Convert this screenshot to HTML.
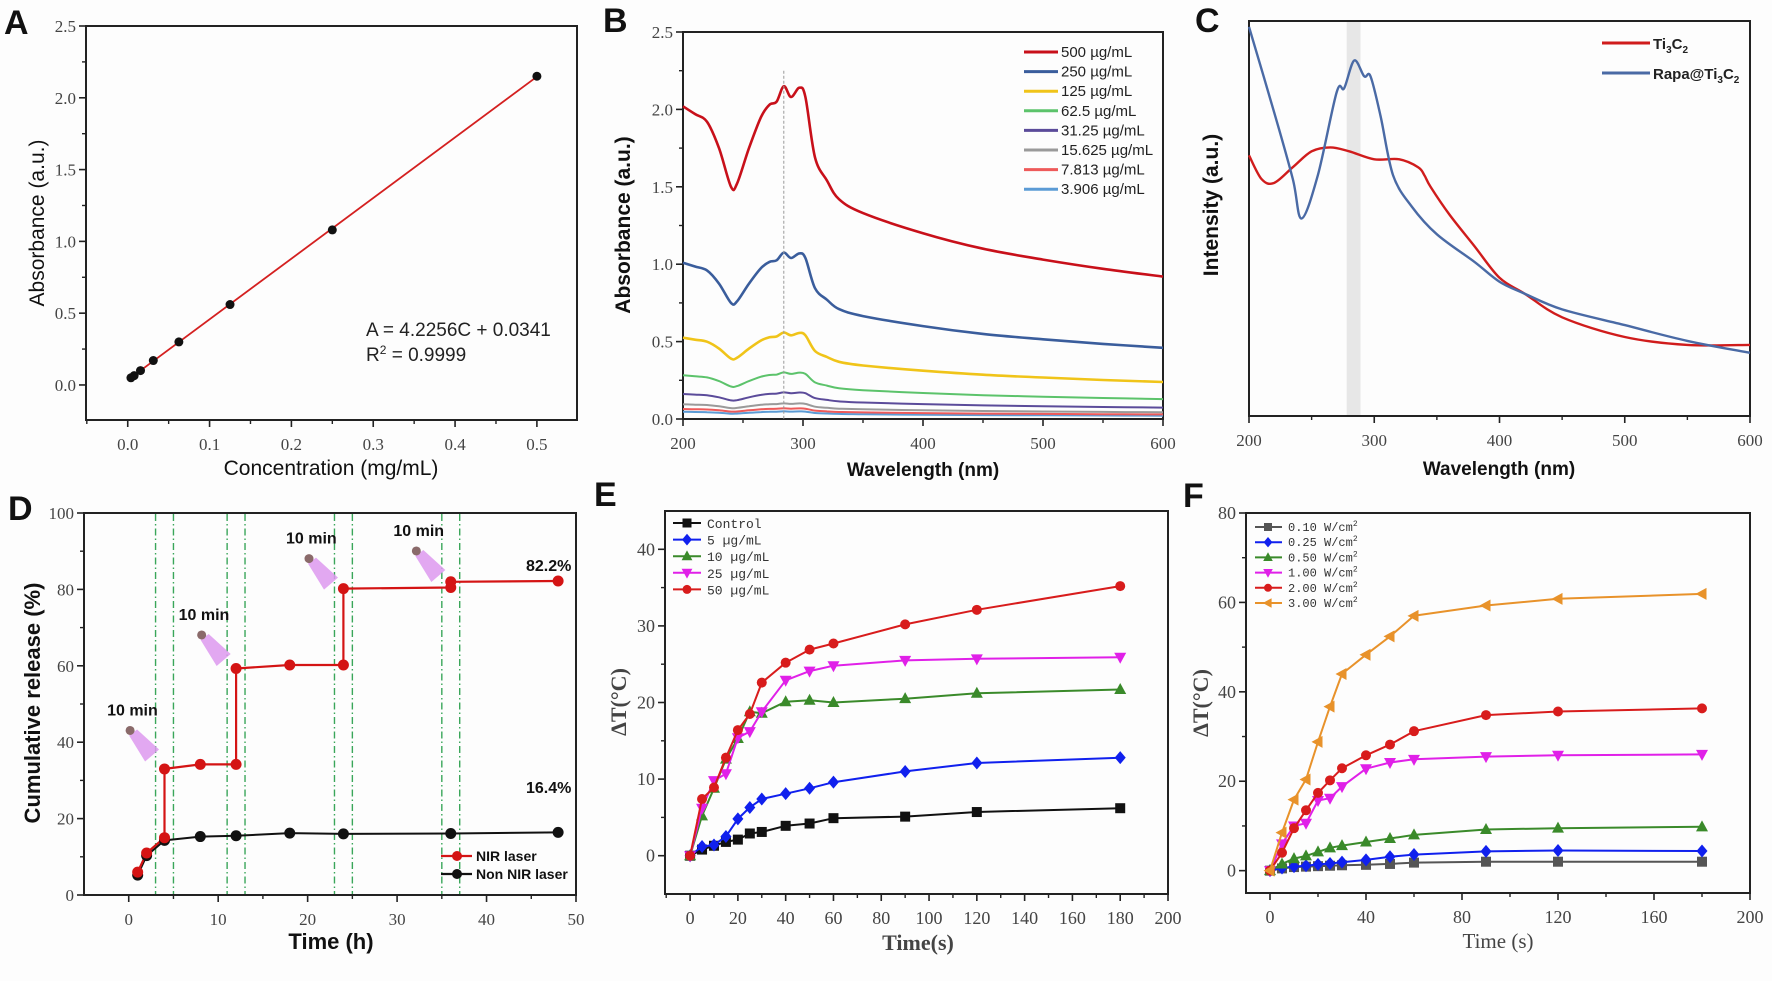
<!DOCTYPE html>
<html><head><meta charset="utf-8">
<style>
html,body{margin:0;padding:0;background:#fff;}
svg{display:block;}
.tk{font-family:"Liberation Serif",serif;fill:#444;}
.sans{font-family:"Liberation Sans",sans-serif;}
.mono{font-family:"Liberation Mono",monospace;}
</style></head>
<body>
<svg id="fig" width="1772" height="981" viewBox="0 0 1772 981" xmlns="http://www.w3.org/2000/svg">
<rect x="0" y="0" width="1772" height="981" fill="#fdfdfd"/>
</svg>
<script>
// ---------- Panel A data ----------
const aConc = [0.0039, 0.0078, 0.0156, 0.03125, 0.0625, 0.125, 0.25, 0.5];
const aAbs = [0.05, 0.065, 0.10, 0.17, 0.30, 0.56, 1.08, 2.15];
const aFitX = [0.003, 0.5];
const aFitY = [0.047, 2.147];
// ---------- Panel B data ----------
const bWave = [200,210,220,230,240,245,255,265,272,278,284,290,297,302,310,320,330,350,400,450,500,550,600];
const b500 = [2.02,1.97,1.92,1.75,1.50,1.52,1.75,1.95,2.03,2.05,2.15,2.08,2.14,2.08,1.69,1.54,1.42,1.33,1.20,1.10,1.03,0.97,0.92];
const bLabels = ["500 µg/mL","250 µg/mL","125 µg/mL","62.5 µg/mL","31.25 µg/mL","15.625 µg/mL","7.813 µg/mL","3.906 µg/mL"];
const bRatio = [1, 0.5, 0.26, 0.14, 0.08, 0.047, 0.032, 0.023];
const bColors = ["#c8101a","#3a5d9c","#f0c419","#5cc36b","#5b4b9a","#9a9a9a","#ee5a5a","#5b9bd5"];
// ---------- Panel C data ----------
const cWaveBlue = [200,220,235,242,255,270,276,284,292,297,305,315,330,350,380,400,420,450,500,550,600];
const cBlue = [0.985,0.77,0.60,0.50,0.61,0.82,0.83,0.90,0.86,0.86,0.76,0.61,0.53,0.46,0.39,0.34,0.31,0.27,0.23,0.19,0.16];
const cWaveRed = [200,210,220,235,250,265,280,300,320,335,340,345,360,380,400,420,450,500,550,600];
const cRed = [0.66,0.60,0.59,0.63,0.67,0.68,0.67,0.65,0.65,0.63,0.61,0.58,0.51,0.43,0.35,0.31,0.25,0.20,0.18,0.18];
// ---------- Panel D data ----------
const dTimeNIR = [1,2,4,4,8,12,12,18,24,24,36,36,48];
const dNIR = [6,11,15,33,34.2,34.2,59.3,60.2,60.2,80.2,80.5,82,82.2];
const dTimeNon = [1,2,4,8,12,18,24,36,48];
const dNon = [5.2,10.3,14.3,15.3,15.5,16.2,16.0,16.1,16.4];
const dLaserLines = [3,5,11,13,23,25,35,37];
const dLaserOn = [4,12,24,36];
// ---------- Panel E data ----------
const eTime = [0,5,10,15,20,25,30,40,50,60,90,120,180];
const eLabels = ["Control","5 µg/mL","10 µg/mL","25 µg/mL","50 µg/mL"];
const eControl = [0,0.8,1.3,1.8,2.1,2.9,3.1,3.9,4.2,4.9,5.1,5.7,6.2];
const e5 = [0,1.2,1.4,2.5,4.8,6.3,7.4,8.1,8.8,9.6,11.0,12.1,12.8];
const e10 = [0,5.2,8.8,12.6,15.3,18.8,18.6,20.1,20.3,20.0,20.5,21.2,21.7];
const e25 = [0,6.2,9.8,10.7,15.4,16.2,18.8,22.9,24.1,24.8,25.5,25.7,25.9];
const e50 = [0,7.4,8.9,12.8,16.4,18.5,22.6,25.2,26.9,27.7,30.2,32.1,35.2];
// ---------- Panel F data ----------
const fTime = [0,5,10,15,20,25,30,40,50,60,90,120,180];
const fLabels = ["0.10 W/cm","0.25 W/cm","0.50 W/cm","1.00 W/cm","2.00 W/cm","3.00 W/cm"];
const f010 = [0,0.5,0.8,0.9,1.0,1.1,1.2,1.3,1.5,1.8,2.0,2.0,2.0];
const f025 = [0,0.6,0.9,1.1,1.4,1.6,1.9,2.4,3.1,3.6,4.3,4.5,4.4];
const f050 = [0,1.5,2.7,3.3,4.2,5.1,5.6,6.4,7.2,8.0,9.2,9.5,9.8];
const f100 = [0,6.0,10.0,10.6,15.7,16.2,18.8,22.8,24.2,24.9,25.5,25.8,26.0];
const f200 = [0,4.0,9.5,13.5,17.4,20.2,22.9,25.8,28.2,31.2,34.8,35.6,36.3];
const f300 = [0,8.5,15.9,20.4,28.8,36.7,44.0,48.3,52.4,57.0,59.3,60.8,61.9];

const NS = "http://www.w3.org/2000/svg";
const svg = document.getElementById('fig');
function mk(tag, attrs, parent){
  const e = document.createElementNS(NS, tag);
  for (const k in attrs) e.setAttribute(k, attrs[k]);
  (parent||svg).appendChild(e);
  return e;
}
function txt(s, attrs, parent){ const e = mk('text', attrs, parent); e.textContent = s; return e; }

function makeAxes(p){
  const g = mk('g', {});
  
  
  const sx = v => p.x0 + (v - p.xmin) / (p.xmax - p.xmin) * (p.x1 - p.x0);
  const sy = v => p.y1 - (v - p.ymin) / (p.ymax - p.ymin) * (p.y1 - p.y0);
  const box = mk('rect', {x:p.x0, y:p.y0, width:p.x1-p.x0, height:p.y1-p.y0, fill:'none', stroke:'#222', 'stroke-width':2}, g);
  
  
  for (let v = p.xt0; v <= p.xt1 + 1e-9; v += p.xstep){
    const x = sx(v);
    mk('line', {x1:x, x2:x, y1:p.y1, y2:p.y1+7, stroke:'#222','stroke-width':1.6}, g);
    const t = txt(p.xfmt(v), {x:x, y:p.y1+30, 'text-anchor':'middle', 'font-size':p.tfs||18, class:'tk'}, g);
    
    
    const m = v + p.xstep/2;
    if (m < p.xmax) mk('line', {x1:sx(m), x2:sx(m), y1:p.y1, y2:p.y1+4, stroke:'#222','stroke-width':1.4}, g);
  }
  if (p.ystep){
    for (let v = p.yt0; v <= p.yt1 + 1e-9; v += p.ystep){
      const y = sy(v);
      mk('line', {x1:p.x0-7, x2:p.x0, y1:y, y2:y, stroke:'#222','stroke-width':1.6}, g);
      const t = txt(p.yfmt(v), {x:p.x0-10, y:y+6, 'text-anchor':'end', 'font-size':p.tfs||18, class:'tk'}, g);
      
      
      const m = v + p.ystep/2;
      if (m < p.ymax) mk('line', {x1:p.x0-4, x2:p.x0, y1:sy(m), y2:sy(m), stroke:'#222','stroke-width':1.4}, g);
    }
    const m = p.yt0 - p.ystep/2;
    if (m > p.ymin) mk('line', {x1:p.x0-4, x2:p.x0, y1:sy(m), y2:sy(m), stroke:'#222','stroke-width':1.4}, g);
  }
  const m0 = p.xt0 - p.xstep/2;
  if (m0 > p.xmin) mk('line', {x1:sx(m0), x2:sx(m0), y1:p.y1, y2:p.y1+4, stroke:'#222','stroke-width':1.4}, g);
  return {sx, sy, g};
}
function path(xs, ys, ax, color, w, name){
  let d = '';
  xs.forEach((x,i)=>{ d += (i?'L':'M') + ax.sx(x).toFixed(1) + ',' + ax.sy(ys[i]).toFixed(1); });
  const e = mk('path', {d, fill:'none', stroke:color, 'stroke-width':w, 'stroke-linejoin':'round'});
  
  
  return e;
}
function smoothPath(xs, ys, ax, color, w, name){
  const pts = xs.map((x,i)=>[ax.sx(x), ax.sy(ys[i])]);
  let d = 'M' + pts[0][0].toFixed(1) + ',' + pts[0][1].toFixed(1);
  for (let i=0;i<pts.length-1;i++){
    const p0 = pts[Math.max(0,i-1)], p1 = pts[i], p2 = pts[i+1], p3 = pts[Math.min(pts.length-1,i+2)];
    const c1 = [p1[0]+(p2[0]-p0[0])/6, p1[1]+(p2[1]-p0[1])/6];
    const c2 = [p2[0]-(p3[0]-p1[0])/6, p2[1]-(p3[1]-p1[1])/6];
    d += 'C'+c1[0].toFixed(1)+','+c1[1].toFixed(1)+' '+c2[0].toFixed(1)+','+c2[1].toFixed(1)+' '+p2[0].toFixed(1)+','+p2[1].toFixed(1);
  }
  const e = mk('path', {d, fill:'none', stroke:color, 'stroke-width':w, 'stroke-linejoin':'round'});
  
  
  return e;
}
function marker(shape, x, y, color, r, name){
  let e;
  if (shape === 'circle') e = mk('circle', {cx:x, cy:y, r:r, fill:color});
  else if (shape === 'square') e = mk('rect', {x:x-r, y:y-r, width:2*r, height:2*r, fill:color});
  else {
    let pts;
    if (shape === 'diamond') pts = [[x,y-r*1.3],[x+r*1.1,y],[x,y+r*1.3],[x-r*1.1,y]];
    if (shape === 'up') pts = [[x,y-r*1.3],[x+r*1.2,y+r*0.9],[x-r*1.2,y+r*0.9]];
    if (shape === 'down') pts = [[x,y+r*1.3],[x+r*1.2,y-r*0.9],[x-r*1.2,y-r*0.9]];
    if (shape === 'left') pts = [[x-r*1.3,y],[x+r*0.9,y-r*1.2],[x+r*0.9,y+r*1.2]];
    e = mk('polygon', {points: pts.map(p=>p.join(',')).join(' '), fill:color});
  }
  
  
  return e;
}
function panelLetter(s, x, y){
  const t = txt(s, {x, y, 'font-size':34, 'font-weight':'bold', class:'sans', fill:'#111'});
  
  
}
function title(s, x, y, rot, size, bold, cls, name){
  const t = txt(s, {x, y, 'text-anchor':'middle', 'font-size':size, 'font-weight':bold?'bold':'normal', class:cls, fill:'#111', transform: rot?`rotate(-90 ${x} ${y})`:''});
  
  
  return t;
}

// ================= Panel A =================
panelLetter('A', 4, 34);
const axA = makeAxes({name:'panel-a', x0:86, y0:26, x1:577, y1:420, xmin:-0.051, xmax:0.549, ymin:-0.244, ymax:2.5,
  xt0:0, xt1:0.5, xstep:0.1, yt0:0, yt1:2.5, ystep:0.5, xfmt:v=>v.toFixed(1), yfmt:v=>v.toFixed(1), tfs:17});
path(aFitX, aFitY, axA, '#d42020', 1.8, 'panel-a-fit-line');
aConc.forEach((c,i)=>marker('circle', axA.sx(c), axA.sy(aAbs[i]), '#111', 4.5, 'panel-a-point'));
title('Absorbance (a.u.)', 44, 223, true, 21, false, 'sans', 'panel-a-y-axis-title');
title('Concentration (mg/mL)', 331, 475, false, 21, false, 'sans', 'panel-a-x-axis-title');
txt('A = 4.2256C + 0.0341', {x:366, y:336, 'font-size':19, class:'sans', fill:'#222'});
const r2 = txt('', {x:366, y:361, 'font-size':19, class:'sans', fill:'#222'});

r2.innerHTML = 'R<tspan dy="-7" font-size="12">2</tspan><tspan dy="7"> = 0.9999</tspan>';

// ================= Panel B =================
panelLetter('B', 603, 32);
const axB = makeAxes({name:'panel-b', x0:683, y0:32, x1:1163, y1:419, xmin:200, xmax:600, ymin:0, ymax:2.5,
  xt0:200, xt1:600, xstep:100, yt0:0, yt1:2.5, ystep:0.5, xfmt:v=>String(v), yfmt:v=>v.toFixed(1), tfs:17});
for (let k = bRatio.length-1; k >= 0; k--){
  smoothPath(bWave, b500.map(v=>v*bRatio[k]), axB, bColors[k], k<3?2.6:2, 'panel-b-series-' + k);
}
const vline = mk('line', {x1:axB.sx(284), x2:axB.sx(284), y1:axB.sy(2.25), y2:axB.sy(0), stroke:'#999', 'stroke-width':1, 'stroke-dasharray':'3,2'});


bLabels.forEach((l,k)=>{
  const y = 57 + k*19.6;
  const ln = mk('line', {x1:1024, x2:1058, y1:y-5, y2:y-5, stroke:bColors[k], 'stroke-width':3});
  
  
  const t = txt(l, {x:1061, y:y, 'font-size':15, class:'sans', fill:'#222'});
  
  
});
title('Absorbance (a.u.)', 630, 225, true, 21, true, 'sans', 'panel-b-y-axis-title');
title('Wavelength (nm)', 923, 476, false, 19, true, 'sans', 'panel-b-x-axis-title');

// ================= Panel C =================
panelLetter('C', 1195, 32);
const axC = makeAxes({name:'panel-c', x0:1249, y0:21, x1:1750, y1:416, xmin:200, xmax:600, ymin:0, ymax:1,
  xt0:200, xt1:600, xstep:100, xfmt:v=>String(v), tfs:17});
const band = mk('rect', {x:axC.sx(278), y:22, width:axC.sx(289)-axC.sx(278), height:393, fill:'#d8d8d8', opacity:0.6});


smoothPath(cWaveRed, cRed, axC, '#d01c1c', 2.4, 'panel-c-ti3c2-line');
smoothPath(cWaveBlue, cBlue, axC, '#4a6aa5', 2.4, 'panel-c-rapa-line');
[['#d01c1c','Ti','3','C','2',49],['#4a6aa5','Rapa@Ti','3','C','2',79]].forEach((L,i)=>{
  const ln = mk('line', {x1:1602, x2:1650, y1:L[5]-6, y2:L[5]-6, stroke:L[0], 'stroke-width':3});
  
  
  const t = txt('', {x:1653, y:L[5], 'font-size':15, 'font-weight':'bold', class:'sans', fill:'#222'});
  
  
  t.innerHTML = L[1]+'<tspan dy="4" font-size="10">'+L[2]+'</tspan><tspan dy="-4">'+L[3]+'</tspan><tspan dy="4" font-size="10">'+L[4]+'</tspan>';
});
title('Intensity (a.u.)', 1218, 205, true, 21, true, 'sans', 'panel-c-y-axis-title');
title('Wavelength (nm)', 1499, 475, false, 19, true, 'sans', 'panel-c-x-axis-title');

// ================= Panel D =================
panelLetter('D', 8, 520);
const axD = makeAxes({name:'panel-d', x0:84, y0:513, x1:576, y1:895, xmin:-5, xmax:50, ymin:0, ymax:100,
  xt0:0, xt1:50, xstep:10, yt0:0, yt1:100, ystep:20, xfmt:v=>String(v), yfmt:v=>String(v), tfs:17});
dLaserLines.forEach(t=>{
  const l = mk('line', {x1:axD.sx(t), x2:axD.sx(t), y1:514, y2:894, stroke:'#3aa65a', 'stroke-width':1.4, 'stroke-dasharray':'7,3,1.5,3'});
  
  
});
const dLabelY = [34, 59, 79, 81];
dLaserOn.forEach((t,i)=>{
  const cx = axD.sx(t-1.5), cy = axD.sy(dLabelY[i]+2);
  const g = mk('g', {});
  
  
  mk('polygon', {points:`${cx-22},${cy-22} ${cx-14},${cy-28} ${cx+8},${cy-8} ${cx-6},${cy+4}`, fill:'#dd99ee', opacity:0.85}, g);
  mk('circle', {cx:cx-21, cy:cy-27, r:4.5, fill:'#8a6a6a'}, g);
  const tl = txt('10 min', {x:cx-44, y:cy-42, 'font-size':16, 'font-weight':'bold', class:'sans', fill:'#111'});
  
  
});
path(dTimeNon, dNon, axD, '#111', 2, 'panel-d-non-nir-line');
path(dTimeNIR, dNIR, axD, '#d41414', 2.2, 'panel-d-nir-line');
dTimeNon.forEach((t,i)=>marker('circle', axD.sx(t), axD.sy(dNon[i]), '#111', 5.5, 'panel-d-non-nir-point'));
dTimeNIR.forEach((t,i)=>marker('circle', axD.sx(t), axD.sy(dNIR[i]), '#d41414', 5.5, 'panel-d-nir-point'));
txt('82.2%', {x:526, y:571, 'font-size':16, 'font-weight':'bold', class:'sans', fill:'#111'});
txt('16.4%', {x:526, y:793, 'font-size':16, 'font-weight':'bold', class:'sans', fill:'#111'});
[['#d41414','NIR laser',861],['#111','Non NIR laser',879]].forEach(L=>{
  const ln = mk('line', {x1:441, x2:472, y1:L[2]-5, y2:L[2]-5, stroke:L[0], 'stroke-width':2.2});
  
  
  marker('circle', 457, L[2]-5, L[0], 5, 'panel-d-legend-marker');
  const t = txt(L[1], {x:476, y:L[2], 'font-size':14, 'font-weight':'bold', class:'sans', fill:'#111'});
  
  
});
title('Cumulative release (%)', 40, 703, true, 22, true, 'sans', 'panel-d-y-axis-title');
title('Time (h)', 331, 949, false, 22, true, 'sans', 'panel-d-x-axis-title');

// ================= Panel E =================
panelLetter('E', 594, 506);
const axE = makeAxes({name:'panel-e', x0:665, y0:511, x1:1168, y1:894, xmin:-10.5, xmax:200, ymin:-5, ymax:45,
  xt0:0, xt1:200, xstep:20, yt0:0, yt1:40, ystep:10, xfmt:v=>String(v), yfmt:v=>String(v), tfs:18});
const eSeries = [eControl, e5, e10, e25, e50];
const eColors = ['#111','#1020ee','#3a8a2a','#e020e8','#d81c1c'];
const eShapes = ['square','diamond','up','down','circle'];
eSeries.forEach((s,k)=>{
  path(eTime, s, axE, eColors[k], 2, 'panel-e-series-' + k);
  eTime.forEach((t,i)=>marker(eShapes[k], axE.sx(t), axE.sy(s[i]), eColors[k], 5, 'panel-e-point'));
});
eLabels.forEach((l,k)=>{
  const y = 528 + k*16.6;
  const ln = mk('line', {x1:673, x2:701, y1:y-5, y2:y-5, stroke:eColors[k], 'stroke-width':2});
  
  
  marker(eShapes[k], 687, y-5, eColors[k], 4.5, 'panel-e-legend-marker');
  const t = txt(l, {x:707, y:y, 'font-size':13, class:'mono', fill:'#333'});
  
  
});
title('ΔT(°C)', 626, 702, true, 22, true, 'tk', 'panel-e-y-axis-title');
title('Time(s)', 918, 950, false, 22, true, 'tk', 'panel-e-x-axis-title');

// ================= Panel F =================
panelLetter('F', 1183, 507);
const axF = makeAxes({name:'panel-f', x0:1246, y0:513, x1:1750, y1:893, xmin:-10, xmax:200, ymin:-5, ymax:80,
  xt0:0, xt1:200, xstep:40, yt0:0, yt1:80, ystep:20, xfmt:v=>String(v), yfmt:v=>String(v), tfs:18});
const fSeries = [f010, f025, f050, f100, f200, f300];
const fColors = ['#555','#1020ee','#3a8a2a','#e020e8','#d81c1c','#e8922a'];
const fShapes = ['square','diamond','up','down','circle','left'];
fSeries.forEach((s,k)=>{
  path(fTime, s, axF, fColors[k], 2, 'panel-f-series-' + k);
  fTime.forEach((t,i)=>marker(fShapes[k], axF.sx(t), axF.sy(s[i]), fColors[k], 5, 'panel-f-point'));
});
fLabels.forEach((l,k)=>{
  const y = 531 + k*15.2;
  const ln = mk('line', {x1:1255, x2:1282, y1:y-4, y2:y-4, stroke:fColors[k], 'stroke-width':2});
  
  
  marker(fShapes[k], 1268, y-4, fColors[k], 4, 'panel-f-legend-marker');
  const t = txt('', {x:1288, y:y, 'font-size':12, class:'mono', fill:'#333'});
  
  
  t.innerHTML = l + '<tspan dy="-5" font-size="8">2</tspan>';
});
title('ΔT(°C)', 1208, 703, true, 22, true, 'tk', 'panel-f-y-axis-title');
title('Time (s)', 1498, 948, false, 21, false, 'tk', 'panel-f-x-axis-title');
</script>
</body></html>
